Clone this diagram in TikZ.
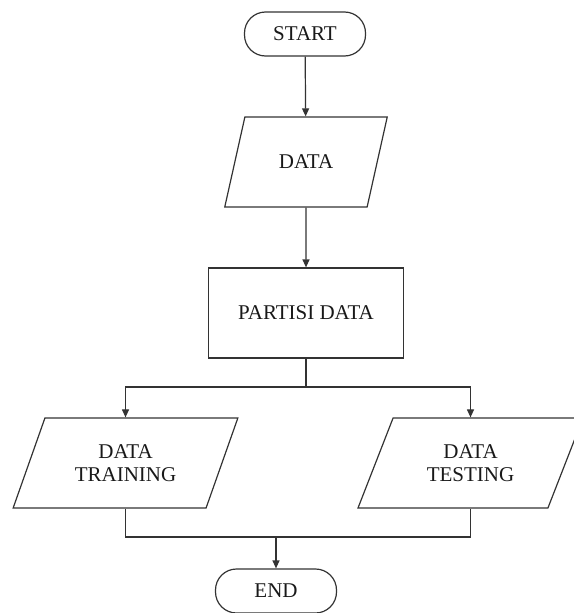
\documentclass[tikz,border=0pt]{standalone}
\usepackage{fontspec}
\setmainfont{Liberation Serif}
\usepackage{tikz}
\usetikzlibrary{arrows.meta, positioning, shapes.geometric}

\begin{document}
\begin{tikzpicture}[
    x=1pt, y=-1pt,
    every node/.style={draw=black!80, line width=1.2pt, align=center,
        font=\fontsize{21}{23}\selectfont, text=black!90},
    terminal/.style={rectangle, rounded corners=21pt, minimum width=121pt, minimum height=44pt},
    process/.style={rectangle, minimum width=195pt, minimum height=90pt},
    io/.style={trapezium, trapezium left angle=64, trapezium right angle=116,
        trapezium stretches=true, minimum height=90pt},
    line/.style={draw=black!80, line width=1.2pt},
    arrow/.style={line, -{Triangle[length=8pt, width=7pt]}}
]
\useasboundingbox (0,0) rectangle (573,613);

\node[terminal] (start) at (305,34) {START};
\node[io, minimum width=163pt] (data) at (306,162) {DATA};
\node[process] (partisi) at (306,313) {PARTISI DATA};
\node[io, minimum width=225pt] (training) at (125.5,463) {DATA\\TRAINING};
\node[io, minimum width=225pt] (testing) at (470.5,463) {DATA\\TESTING};
\node[terminal] (end) at (276,591) {END};

\coordinate (split) at (306,387);
\coordinate (merge) at (276,537);

\draw[arrow] (start) -- (data);
\draw[arrow] (data) -- (partisi);
\draw[line] (partisi) -- (split);
\draw[arrow] (split) -| (training.north);
\draw[arrow] (split) -| (testing.north);
\draw[line] (training.south) |- (merge);
\draw[line] (testing.south) |- (merge);
\draw[arrow] (merge) -- (end);

\end{tikzpicture}
\end{document}
